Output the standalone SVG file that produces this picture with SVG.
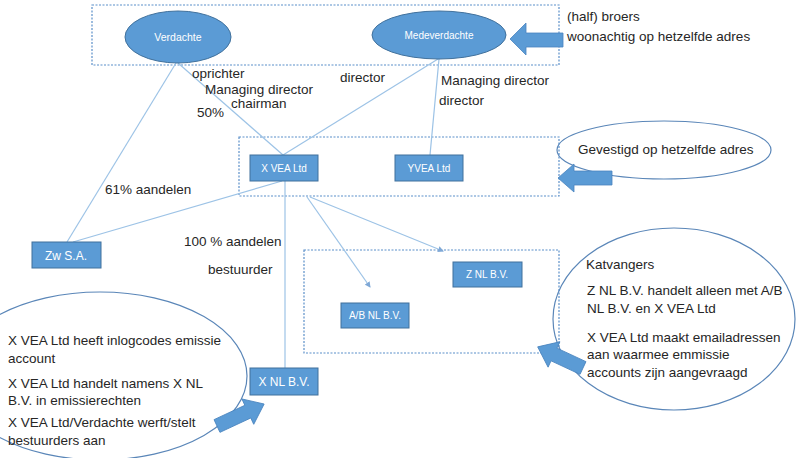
<svg xmlns="http://www.w3.org/2000/svg" width="800" height="458" viewBox="0 0 800 458">
<style>
.node{fill:#5B9BD5;stroke:#41719C;stroke-width:1}
.nt{fill:#ffffff;font-family:"Liberation Sans",Arial,sans-serif;text-anchor:middle}
.box{fill:none;stroke:#5B8FC9;stroke-width:1.2;stroke-dasharray:2 1.5}
.con{stroke:#9DC3E6;stroke-width:1.2;fill:none}
.lbl{fill:#262626;font-family:"Liberation Sans",Arial,sans-serif;font-size:13.5px}
.call{fill:#ffffff;stroke:#5A86B8;stroke-width:1.2}
.barrow{fill:#5B9BD5;stroke:#4A84BF;stroke-width:0.8}
</style>
<defs>
<marker id="ah" markerWidth="6" markerHeight="6" refX="5" refY="3" orient="auto" markerUnits="userSpaceOnUse">
<path d="M0,0 L6,3 L0,6 z" fill="#7FA8D6"/>
</marker>
</defs>
<rect width="800" height="458" fill="#ffffff"/>

<g id="gevestigd">
<ellipse class="call" cx="664" cy="150" rx="107" ry="29"/>
<text class="lbl" x="578" y="154">Gevestigd op hetzelfde adres</text>
</g>

<g id="links-callout">
<ellipse class="call" cx="100" cy="376" rx="147" ry="84"/>
<text class="lbl" x="8" y="345">X VEA Ltd heeft inlogcodes emissie</text>
<text class="lbl" x="8" y="363">account</text>
<text class="lbl" x="8" y="388">X VEA Ltd handelt namens X NL</text>
<text class="lbl" x="8" y="405">B.V. in emissierechten</text>
<text class="lbl" x="8" y="427">X VEA Ltd/Verdachte werft/stelt</text>
<text class="lbl" x="8" y="445">bestuurders aan</text>
</g>

<g id="katvangers">
<ellipse class="call" cx="674" cy="319" rx="121" ry="91"/>
<text class="lbl" x="586" y="269">Katvangers</text>
<text class="lbl" x="587" y="295">Z NL B.V. handelt alleen met A/B</text>
<text class="lbl" x="587" y="313">NL B.V. en X VEA Ltd</text>
<text class="lbl" x="587" y="342">X VEA Ltd maakt emailadressen</text>
<text class="lbl" x="587" y="359">aan waarmee emmissie</text>
<text class="lbl" x="587" y="377">accounts zijn aangevraagd</text>
</g>

<g id="boxes">
<rect class="box" x="92" y="5" width="467" height="60"/>
<rect class="box" x="239" y="137" width="320" height="59"/>
<rect class="box" x="304" y="250" width="255" height="103"/>
</g>

<g id="connectors">
<line class="con" x1="176" y1="63" x2="67" y2="242"/>
<line class="con" x1="178" y1="63" x2="283" y2="155"/>
<line class="con" x1="438" y1="59" x2="283" y2="155"/>
<line class="con" x1="439" y1="59" x2="430" y2="155"/>
<line class="con" x1="282" y1="181" x2="73" y2="242"/>
<line class="con" x1="285" y1="181" x2="285" y2="368"/>
<line class="con" x1="307" y1="197" x2="370" y2="287" marker-end="url(#ah)"/>
<line class="con" x1="310" y1="197" x2="443" y2="251" marker-end="url(#ah)"/>
</g>

<g id="labels">
<text class="lbl" x="192" y="78">oprichter</text>
<text class="lbl" x="205" y="94">Managing director</text>
<text class="lbl" x="231" y="108">chairman</text>
<text class="lbl" x="197" y="117">50%</text>
<text class="lbl" x="340" y="82">director</text>
<text class="lbl" x="441" y="85">Managing director</text>
<text class="lbl" x="439" y="105">director</text>
<text class="lbl" x="105" y="194">61% aandelen</text>
<text class="lbl" x="184" y="246">100 % aandelen</text>
<text class="lbl" x="208" y="274">bestuurder</text>
<text class="lbl" x="567" y="21">(half) broers</text>
<text class="lbl" x="567" y="41">woonachtig op hetzelfde adres</text>
</g>

<g id="verdachte">
<ellipse class="node" cx="178" cy="37" rx="53" ry="26"/>
<text class="nt" x="178" y="41" font-size="10.5">Verdachte</text>
</g>
<g id="medeverdachte">
<ellipse class="node" cx="439" cy="35" rx="67" ry="24"/>
<text class="nt" x="439" y="39" font-size="10">Medeverdachte</text>
</g>
<g id="xvea">
<rect class="node" x="250" y="155" width="68" height="26"/>
<text class="nt" x="284" y="172" font-size="10">X VEA Ltd</text>
</g>
<g id="yvea">
<rect class="node" x="395" y="155" width="68" height="26"/>
<text class="nt" x="429" y="172" font-size="10">YVEA Ltd</text>
</g>
<g id="zwsa">
<rect class="node" x="32" y="242" width="69" height="26"/>
<text class="nt" x="66" y="260" font-size="12">Zw S.A.</text>
</g>
<g id="znl">
<rect class="node" x="453" y="262" width="69" height="25"/>
<text class="nt" x="487" y="278" font-size="10">Z NL B.V.</text>
</g>
<g id="abnl">
<rect class="node" x="341" y="303" width="68" height="25"/>
<text class="nt" x="375" y="319" font-size="10">A/B NL B.V.</text>
</g>
<g id="xnl">
<rect class="node" x="250" y="368" width="68" height="27"/>
<text class="nt" x="284" y="386" font-size="12">X NL B.V.</text>
</g>

<g id="block-arrows">
<path class="barrow" d="M563,33 L526,33 L526,23 L510,39 L526,55 L526,47 L563,47 Z"/>
<path class="barrow" d="M612,171 L574,171 L574,164 L558,178 L574,192 L574,185 L612,185 Z"/>
<path class="barrow" transform="translate(217,426) rotate(-25)" d="M0,-7 L34,-7 L34,-14 L52,0 L34,14 L34,7 L0,7 Z"/>
<path class="barrow" transform="translate(583,368) rotate(205)" d="M0,-7 L32,-7 L32,-14 L50,0 L32,14 L32,7 L0,7 Z"/>
</g>
</svg>
